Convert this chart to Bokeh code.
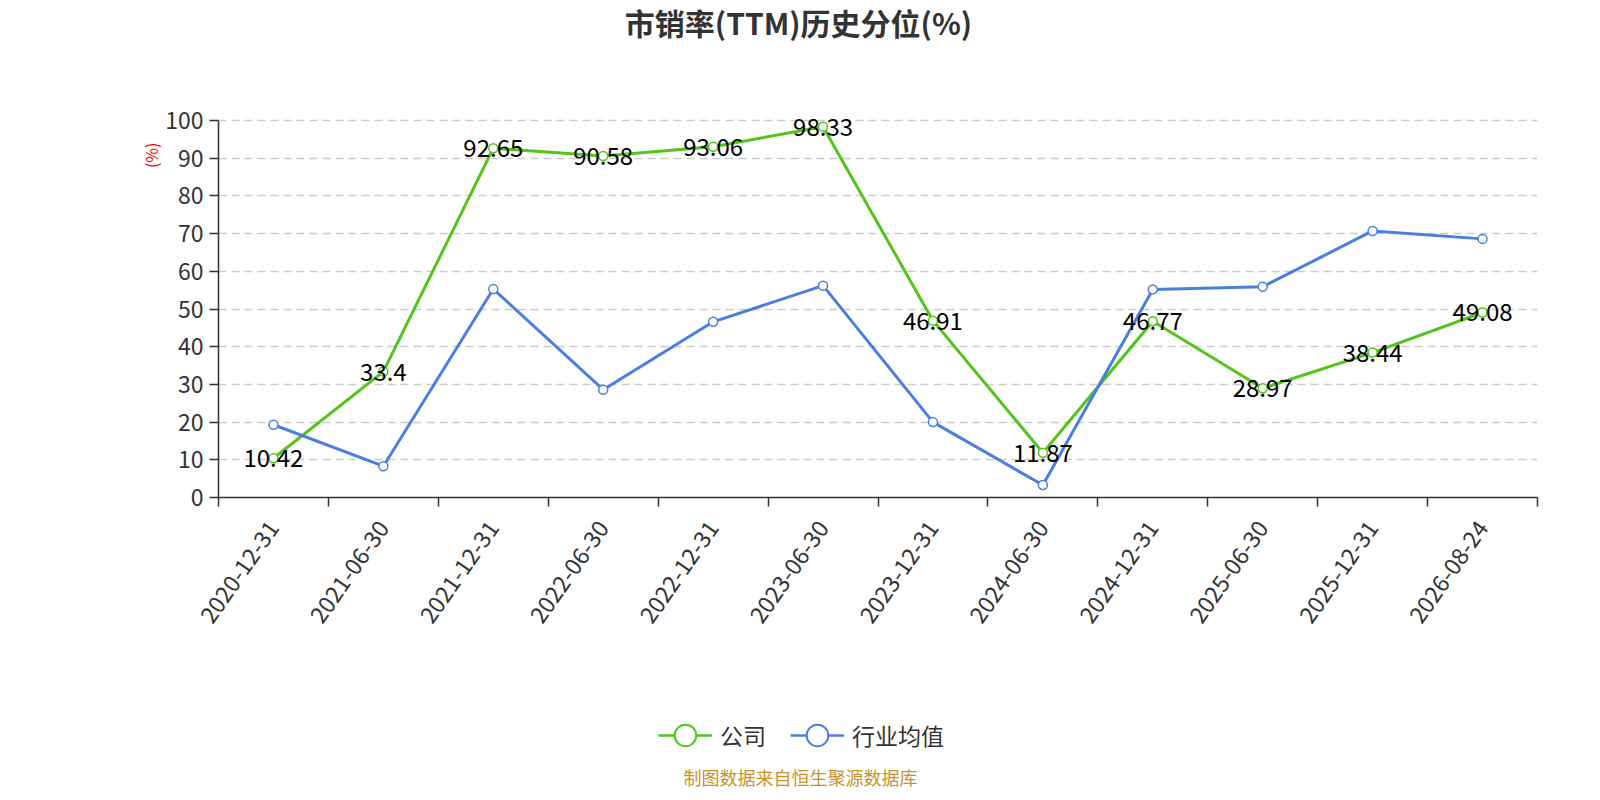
import math
from bokeh.plotting import figure
from bokeh.layouts import column
from bokeh.models import (Range1d, FixedTicker, Title, Legend, LegendItem,
                          ColumnDataSource, Label)
from bokeh.core.properties import value
from bokeh.embed import file_html
from bokeh.resources import INLINE

# ---- data ----
categories = ["2020-12-31", "2021-06-30", "2021-12-31", "2022-06-30", "2022-12-31",
              "2023-06-30", "2023-12-31", "2024-06-30", "2024-12-31", "2025-06-30",
              "2025-12-31", "2026-08-24"]
company = [10.42, 33.4, 92.65, 90.58, 93.06, 98.33, 46.91, 11.87, 46.77, 28.97, 38.44, 49.08]
industry = [19.3, 8.3, 55.3, 28.6, 46.6, 56.2, 20.0, 3.3, 55.2, 55.9, 70.7, 68.6]
y_ticks = [0, 10, 20, 30, 40, 50, 60, 70, 80, 90, 100]

title_text = "市销率(TTM)历史分位(%)"
y_unit = "(%)"
legend_names = ["公司", "行业均值"]
source_text = "制图数据来自恒生聚源数据库"

GREEN = "#52c41a"
BLUE = "#4a7fe0"
FONT = "Noto Sans CJK SC"

W = 1592
H_TOP, H_MAIN, H_BOT = 64, 600, 128
CX = 800
FL, FR = 218, 1537
Y100, FB = 120, 497
FT = 101
YMAX = 100.0 * (FB - FT) / (FB - Y100)


def blank_fig(h):
    f = figure(width=W, height=h, output_backend="svg", toolbar_location=None,
               x_range=Range1d(FL, FR), y_range=Range1d(0, h), title=None,
               x_axis_location=None, y_axis_location=None,
               min_border_left=FL, min_border_right=W - FR,
               min_border_top=0, min_border_bottom=0)
    f.outline_line_color = None
    f.grid.visible = False
    f.background_fill_color = "white"
    f.border_fill_color = "white"
    return f


# ---- top: title ----
top = blank_fig(H_TOP)
top.add_layout(Label(x=CX - 2, y=H_TOP - 21, text=title_text, text_align="center",
                     text_baseline="middle", text_font=FONT, text_font_size="30px",
                     text_font_style="bold", text_color="#333333"))

# ---- main chart ----
xs = [i + 0.5 for i in range(len(categories))]
src = ColumnDataSource(dict(x=xs, company=company, industry=industry,
                            lab=[str(v) for v in company]))

p = figure(width=W, height=H_MAIN, output_backend="svg", toolbar_location=None,
           x_range=Range1d(0, len(categories)), y_range=Range1d(0, YMAX), title=None,
           min_border_left=FL, min_border_right=W - FR,
           min_border_top=FT - H_TOP, min_border_bottom=H_TOP + H_MAIN - FB)
p.outline_line_color = None
p.background_fill_color = "white"
p.border_fill_color = "white"

p.xaxis.ticker = FixedTicker(ticks=xs, minor_ticks=list(range(len(categories) + 1)))
p.xaxis.major_label_overrides = {x: c for x, c in zip(xs, categories)}
p.xaxis.major_label_orientation = math.radians(55)
p.xaxis.major_tick_out = 0
p.xaxis.major_tick_in = 0
p.xaxis.minor_tick_out = 9
p.xaxis.minor_tick_in = 0
p.xaxis.minor_tick_line_color = "#333333"
p.xaxis.minor_tick_line_width = 1.5
p.xaxis.axis_line_color = "#333333"
p.xaxis.axis_line_width = 1.5
p.xaxis.major_label_text_font = FONT
p.xaxis.major_label_text_font_size = "23px"
p.xaxis.major_label_text_color = "#333333"
p.xaxis.major_label_standoff = 17

p.yaxis.ticker = FixedTicker(ticks=y_ticks, minor_ticks=[])
p.yaxis.bounds = (0, 100)
p.yaxis.major_tick_out = 9
p.yaxis.major_tick_in = 0
p.yaxis.major_tick_line_color = "#333333"
p.yaxis.major_tick_line_width = 1.5
p.yaxis.axis_line_color = "#333333"
p.yaxis.axis_line_width = 1.5
p.yaxis.major_label_text_font = FONT
p.yaxis.major_label_text_font_size = "23px"
p.yaxis.major_label_text_color = "#333333"
p.yaxis.major_label_standoff = 6

p.xgrid.visible = False
p.ygrid.ticker = FixedTicker(ticks=y_ticks)
p.ygrid.grid_line_color = "#cccccc"
p.ygrid.grid_line_width = 1.5
p.ygrid.grid_line_dash = "8 5"

p.add_layout(Title(text=y_unit, align="right", offset=142 - FT, standoff=0,
                   text_font=FONT, text_font_size="16px", text_font_style="normal",
                   text_color="#ff0000"), "left")

p.line("x", "company", source=src, line_color=GREEN, line_width=3)
p.scatter("x", "company", source=src, size=9, marker="circle",
          fill_color="white", line_color=GREEN, line_width=1.5)
p.line("x", "industry", source=src, line_color=BLUE, line_width=3)
p.scatter("x", "industry", source=src, size=9, marker="circle",
          fill_color="white", line_color=BLUE, line_width=1.5)

p.text("x", "company", text="lab", source=src, text_align="center",
       text_baseline="middle", text_font=value(FONT), text_font_size="24px",
       text_color="#000000")

# ---- bottom: legend + source ----
bot = blank_fig(H_BOT)
# legend proxies: same series, positioned outside this strip's visible ranges
lg_l = bot.line(xs, company, line_color=GREEN, line_width=2.5)
lg_s = bot.scatter(xs, company, marker="circle", fill_color="white",
                   line_color=GREEN, line_width=2)
lb_l = bot.line(xs, industry, line_color=BLUE, line_width=2.5)
lb_s = bot.scatter(xs, industry, marker="circle", fill_color="white",
                   line_color=BLUE, line_width=2)
GH = 56
legend = Legend(items=[LegendItem(label=legend_names[0], renderers=[lg_l, lg_s]),
                       LegendItem(label=legend_names[1], renderers=[lb_l, lb_s])],
                orientation="horizontal", location=(658 - FL, 57 - GH // 2),
                border_line_color=None, background_fill_alpha=0,
                label_text_font=FONT, label_text_font_size="23px",
                label_text_color="#333333", glyph_width=54, glyph_height=GH,
                label_standoff=8, spacing=24, padding=0, margin=0)
bot.add_layout(legend, "center")
bot.add_layout(Label(x=CX, y=16, text=source_text, text_align="center",
                     text_baseline="middle", text_font=FONT, text_font_size="18px",
                     text_color="#c8922a"))

layout = column(top, p, bot, spacing=0)
open("out.html", "w").write(file_html(layout, INLINE))
